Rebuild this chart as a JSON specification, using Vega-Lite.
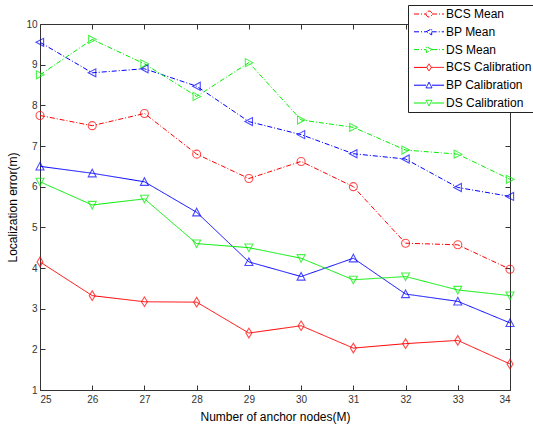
{
  "$schema": "https://vega.github.io/schema/vega-lite/v6.json",
  "width": 470,
  "height": 366,
  "autosize": "none",
  "padding": {"left": 40, "top": 24, "right": 23, "bottom": 34},
  "background": "white",
  "config": {
    "view": {"stroke": "#333", "strokeWidth": 1},
    "font": "Liberation Sans",
    "axis": {
      "grid": false,
      "domain": false,
      "tickColor": "#333",
      "tickSize": -5,
      "labelColor": "#333",
      "labelFont": "Liberation Sans",
      "labelFontSize": 10,
      "titleFont": "Liberation Sans",
      "titleFontSize": 12,
      "titleFontWeight": "normal",
      "titleColor": "#000"
    },
    "legend": {
      "orient": "none",
      "legendX": 368,
      "legendY": -19,
      "strokeColor": "#222",
      "fillColor": "white",
      "padding": 3,
      "labelFont": "Liberation Sans",
      "labelFontSize": 12,
      "labelColor": "#000",
      "symbolSize": 36,
      "symbolStrokeWidth": 1,
      "symbolOffset": 12,
      "labelOffset": 11,
      "rowPadding": 5.8,
      "title": null
    }
  },
  "data": {
    "values": [
      {"x": 25, "y": 7.75, "s": "BCS Mean"},
      {"x": 26, "y": 7.5, "s": "BCS Mean"},
      {"x": 27, "y": 7.8, "s": "BCS Mean"},
      {"x": 28, "y": 6.8, "s": "BCS Mean"},
      {"x": 29, "y": 6.2, "s": "BCS Mean"},
      {"x": 30, "y": 6.62, "s": "BCS Mean"},
      {"x": 31, "y": 6.0, "s": "BCS Mean"},
      {"x": 32, "y": 4.61, "s": "BCS Mean"},
      {"x": 33, "y": 4.57, "s": "BCS Mean"},
      {"x": 34, "y": 3.97, "s": "BCS Mean"},
      {"x": 25, "y": 9.55, "s": "BP Mean"},
      {"x": 26, "y": 8.8, "s": "BP Mean"},
      {"x": 27, "y": 8.9, "s": "BP Mean"},
      {"x": 28, "y": 8.47, "s": "BP Mean"},
      {"x": 29, "y": 7.6, "s": "BP Mean"},
      {"x": 30, "y": 7.28, "s": "BP Mean"},
      {"x": 31, "y": 6.81, "s": "BP Mean"},
      {"x": 32, "y": 6.68, "s": "BP Mean"},
      {"x": 33, "y": 5.98, "s": "BP Mean"},
      {"x": 34, "y": 5.76, "s": "BP Mean"},
      {"x": 25, "y": 8.75, "s": "DS Mean"},
      {"x": 26, "y": 9.62, "s": "DS Mean"},
      {"x": 27, "y": 9.02, "s": "DS Mean"},
      {"x": 28, "y": 8.22, "s": "DS Mean"},
      {"x": 29, "y": 9.05, "s": "DS Mean"},
      {"x": 30, "y": 7.64, "s": "DS Mean"},
      {"x": 31, "y": 7.46, "s": "DS Mean"},
      {"x": 32, "y": 6.9, "s": "DS Mean"},
      {"x": 33, "y": 6.8, "s": "DS Mean"},
      {"x": 34, "y": 6.18, "s": "DS Mean"},
      {"x": 25, "y": 4.15, "s": "BCS Calibration"},
      {"x": 26, "y": 3.32, "s": "BCS Calibration"},
      {"x": 27, "y": 3.17, "s": "BCS Calibration"},
      {"x": 28, "y": 3.16, "s": "BCS Calibration"},
      {"x": 29, "y": 2.4, "s": "BCS Calibration"},
      {"x": 30, "y": 2.58, "s": "BCS Calibration"},
      {"x": 31, "y": 2.03, "s": "BCS Calibration"},
      {"x": 32, "y": 2.14, "s": "BCS Calibration"},
      {"x": 33, "y": 2.22, "s": "BCS Calibration"},
      {"x": 34, "y": 1.64, "s": "BCS Calibration"},
      {"x": 25, "y": 6.5, "s": "BP Calibration"},
      {"x": 26, "y": 6.33, "s": "BP Calibration"},
      {"x": 27, "y": 6.12, "s": "BP Calibration"},
      {"x": 28, "y": 5.37, "s": "BP Calibration"},
      {"x": 29, "y": 4.15, "s": "BP Calibration"},
      {"x": 30, "y": 3.79, "s": "BP Calibration"},
      {"x": 31, "y": 4.24, "s": "BP Calibration"},
      {"x": 32, "y": 3.36, "s": "BP Calibration"},
      {"x": 33, "y": 3.18, "s": "BP Calibration"},
      {"x": 34, "y": 2.65, "s": "BP Calibration"},
      {"x": 25, "y": 6.12, "s": "DS Calibration"},
      {"x": 26, "y": 5.55, "s": "DS Calibration"},
      {"x": 27, "y": 5.7, "s": "DS Calibration"},
      {"x": 28, "y": 4.6, "s": "DS Calibration"},
      {"x": 29, "y": 4.5, "s": "DS Calibration"},
      {"x": 30, "y": 4.24, "s": "DS Calibration"},
      {"x": 31, "y": 3.71, "s": "DS Calibration"},
      {"x": 32, "y": 3.79, "s": "DS Calibration"},
      {"x": 33, "y": 3.46, "s": "DS Calibration"},
      {"x": 34, "y": 3.32, "s": "DS Calibration"}
    ]
  },
  "resolve": {
    "scale": {"color": "independent", "strokeDash": "independent", "shape": "independent"},
    "axis": {"x": "independent", "y": "independent"}
  },
  "layer": [
    {
      "mark": {"type": "line", "clip": true},
      "encoding": {
        "x": {"field": "x", "type": "quantitative", "scale": {"domain": [25, 34], "nice": false, "zero": false},
              "axis": {"orient": "bottom", "values": [25,26,27,28,29,30,31,32,33,34], "title": "Number of anchor nodes(M)", "labelPadding": 9, "titlePadding": 7}},
        "y": {"field": "y", "type": "quantitative", "scale": {"domain": [1, 10], "nice": false, "zero": false},
              "axis": {"orient": "left", "values": [1,2,3,4,5,6,7,8,9,10], "title": "Localization error(m)", "labelPadding": 8, "titlePadding": 6}},
        "color": {"field": "s", "type": "nominal", "legend": null,
                  "scale": {"domain": ["BCS Mean","BP Mean","DS Mean","BCS Calibration","BP Calibration","DS Calibration"],
                            "range": ["#ff0000","#0000ff","#00ee00","#ff0000","#0000ff","#00ee00"]}},
        "strokeDash": {"field": "s", "type": "nominal", "legend": null,
                  "scale": {"domain": ["BCS Mean","BP Mean","DS Mean","BCS Calibration","BP Calibration","DS Calibration"],
                            "range": [[5,2,1,2],[5,2,1,2],[5,2,1,2],[1,0],[1,0],[1,0]]}},
        "strokeWidth": {"field": "s", "type": "nominal", "legend": null,
                  "scale": {"domain": ["BCS Mean","BP Mean","DS Mean","BCS Calibration","BP Calibration","DS Calibration"],
                            "range": [1,1,1,1.6,1.6,1.6]}}
      }
    },
    {
      "mark": {"type": "point", "filled": false, "size": 64, "strokeWidth": 1.1},
      "encoding": {
        "x": {"field": "x", "type": "quantitative", "axis": null},
        "y": {"field": "y", "type": "quantitative", "axis": null},
        "color": {"field": "s", "type": "nominal", "legend": null,
                  "scale": {"domain": ["BCS Mean","BP Mean","DS Mean","BCS Calibration","BP Calibration","DS Calibration"],
                            "range": ["#ff0000","#0000ff","#00ee00","#ff0000","#0000ff","#00ee00"]}},
        "shape": {"field": "s", "type": "nominal", "legend": null,
                  "scale": {"domain": ["BCS Mean","BP Mean","DS Mean","BCS Calibration","BP Calibration","DS Calibration"],
                            "range": [
                              "M-1,0A1,1 0 1,0 1,0A1,1 0 1,0 -1,0Z",
                              "M-1,0L0.9,-1L0.9,1Z",
                              "M1,0L-0.9,-1L-0.9,1Z",
                              "M0,-1.2L0.75,0L0,1.2L-0.75,0Z",
                              "M0,-1L1,0.9L-1,0.9Z",
                              "M0,1L1,-0.9L-1,-0.9Z"
                            ]}}
      }
    },
    {
      "mark": {"type": "point", "filled": false, "size": 36, "strokeWidth": 1, "opacity": 0},
      "encoding": {
        "x": {"field": "x", "type": "quantitative",
              "axis": {"orient": "top", "values": [25,26,27,28,29,30,31,32,33,34], "labels": false, "title": null}},
        "y": {"field": "y", "type": "quantitative",
              "axis": {"orient": "right", "values": [1,2,3,4,5,6,7,8,9,10], "labels": false, "title": null}},
        "color": {"field": "s", "type": "nominal",
                  "legend": {"encode": {"symbols": {"update": {"opacity": {"value": 1}}}}},
                  "scale": {"domain": ["BCS Mean","BP Mean","DS Mean","BCS Calibration","BP Calibration","DS Calibration"],
                            "range": ["#ff0000","#0000ff","#00ee00","#ff0000","#0000ff","#00ee00"]}},
        "strokeDash": {"field": "s", "type": "nominal",
                  "legend": {"encode": {"symbols": {"update": {"opacity": {"value": 1}}}}},
                  "scale": {"domain": ["BCS Mean","BP Mean","DS Mean","BCS Calibration","BP Calibration","DS Calibration"],
                            "range": [[5,2,1,2],[5,2,1,2],[5,2,1,2],[1,0],[1,0],[1,0]]}},
        "shape": {"field": "s", "type": "nominal",
                  "legend": {"encode": {"symbols": {"update": {"opacity": {"value": 1}}}}},
                  "scale": {"domain": ["BCS Mean","BP Mean","DS Mean","BCS Calibration","BP Calibration","DS Calibration"],
                            "range": [
                              "M-5,0H-1M1,0H5M-1,0A1,1 0 1,0 1,0A1,1 0 1,0 -1,0Z",
                              "M-5,0H-1M0.9,0H5M-1,0L0.9,-1L0.9,1Z",
                              "M-5,0H-0.9M1,0H5M1,0L-0.9,-1L-0.9,1Z",
                              "M-5,0H-0.75M0.75,0H5M0,-1.2L0.75,0L0,1.2L-0.75,0Z",
                              "M-5,0H-1M1,0H5M0,-1L1,0.9L-1,0.9Z",
                              "M-5,0H-1M1,0H5M0,1L1,-0.9L-1,-0.9Z"
                            ]}}
      }
    }
  ]
}
